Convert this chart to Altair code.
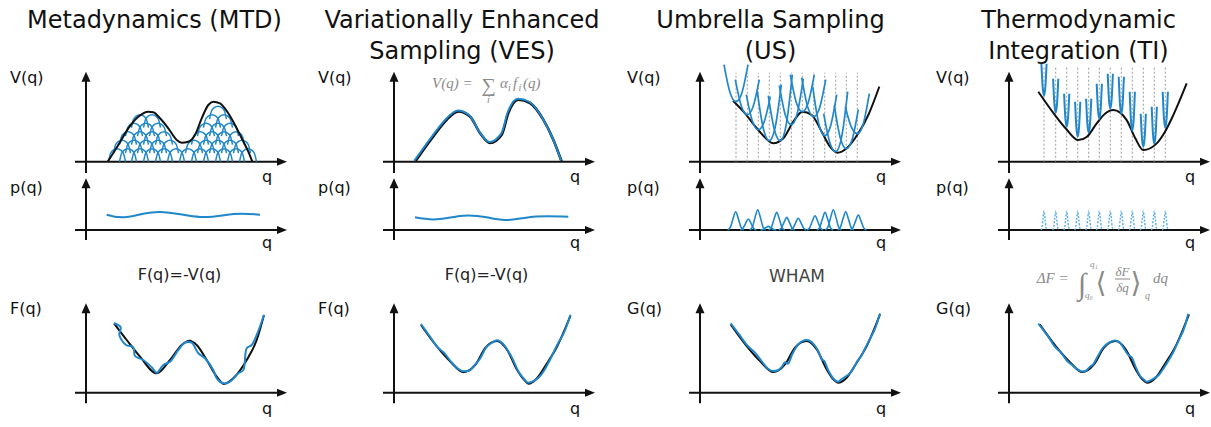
import altair as alt
import pandas as pd

# ---------------- style ----------------
BLUE = "#1f87ca"
LIGHTBLUE = "#5aaee3"
BLACK = "#111111"
DOTGREY = "#9a9a9a"
FORMULA = "#8a8a8a"
SANS = "DejaVu Sans"
SERIF = "Liberation Serif"

# ---------------- layout (pixels) ----------------
COL_W = [303, 303, 303, 302]
COL_AX = [86, 91, 94, 100]          # y-axis position inside each column
ROW_H = {"V": 176, "p": 74, "F": 177}
ROW_BASE = {"V": 161.7, "p": 54.0, "F": 142.7}
AX_TOP = {"V": 90, "p": 51.7, "F": 89.4}
AX_BOT = {"V": -11.3, "p": -10, "F": -10.6}
X_LEFT, X_TIP = -11, 201
LABEL_Q = [-76, -76, -73, -73]
LAB_V = {"V": 78.7, "p": 37.3, "F": 78.7}
QLAB_V = {"V": -20, "p": -18, "F": -21}

# ---------------- text ----------------
TITLES = [["Metadynamics (MTD)"], ["Variationally Enhanced", "Sampling (VES)"],
          ["Umbrella Sampling", "(US)"], ["Thermodynamic", "Integration (TI)"]]
TITLE_Q = [68.5, 68, 70.5, 69.5]
TITLE_V = [133.7, 102.7]
F_LABELS = ["F(q)", "F(q)", "G(q)", "G(q)"]

# ---------------- data ----------------
# Metadynamics bias potential V(q)
MTD_V_Q = [21.7, 32.3, 42.3, 52.3, 62.3, 67.3, 74, 82.3, 90.7, 95.7, 102.3, 109, 115.7, 122.3, 127.3, 134, 142.3, 149, 155.7, 162.3, 166.3]
MTD_V_V = [0, 16.7, 33.4, 45, 50, 49.4, 43.4, 33.4, 21.7, 19, 20, 26.7, 43.4, 56.7, 60, 58.4, 48.4, 36.7, 23.4, 10, 0]
# deposited gaussians: one list of centres per level
MTD_ARC_BASE = [0, 8.5, 17, 25.5, 34, 42.5]
MTD_ARC_CENTERS = [
    [31, 42, 54, 66, 78, 90, 102, 114, 126, 138, 150, 162],
    [36, 48, 60, 72, 84, 108, 120, 132, 144, 156],
    [42, 54, 66, 78, 114, 126, 138, 150],
    [48, 60, 72, 120, 132, 144],
    [54, 66, 126, 138],
    [132],
]
ARC_DX = [-8.5, -6.5, -3.8, 0, 3.8, 6.5, 8.5]
ARC_DY = [0, 8.2, 11.6, 13, 11.6, 8.2, 0]
MTD_P_Q = [20.7, 40.7, 74, 114, 147.3, 174]
MTD_P_V = [15.3, 13, 18, 13, 16, 15.3]
MTD_F_Q = [28, 40.7, 54, 70.7, 84, 95.7, 103.3, 110.7, 120.7, 130.7, 138, 147.3, 160.7, 170.7, 178]
MTD_F_V = [69.4, 52.7, 36, 19.4, 32.7, 47.7, 52, 47.7, 32.7, 16, 8.7, 14.4, 32.7, 52.7, 77.7]
MTD_FB_Q = [28, 34.7, 33.3, 40, 47.3, 49, 57.3, 65.7, 70.7, 77.3, 84, 92.3, 99, 105.7, 112.3, 119, 127.3, 130.7, 137.3, 144, 152.3, 157.3, 160.7, 165.7, 170.7, 178]
MTD_FB_V = [69.4, 65.4, 57.7, 47.7, 45.4, 36.7, 32.7, 25.4, 20, 27.7, 31, 42.7, 50, 50, 39.4, 34.4, 22.7, 14.4, 9.4, 11, 19.4, 22.7, 44.4, 47.7, 57.7, 77.7]

# VES
VES_V_Q = [21, 39.3, 52.7, 64.3, 76, 86, 96, 107.7, 114.3, 124.3, 136, 149.3, 159.3, 167.7]
VES_V_V = [0, 25.3, 42, 50.3, 45.3, 28.7, 18.7, 27, 48.7, 62, 58.7, 42, 22, 0]
VES_P_Q = [21, 42.7, 69.3, 92.7, 114.3, 139.3, 174.3]
VES_P_V = [12.7, 10.7, 14.3, 12.7, 10, 13.3, 13.3]
VES_F_Q = [27, 43, 56.5, 69.5, 81.5, 91.5, 103, 113, 123, 130, 134.5, 143, 153, 163, 176.5]
VES_F_V = [67.7, 46, 31, 20.5, 28, 45, 51.7, 43, 23, 13, 9, 14.5, 29.5, 46, 77]
VES_FB_Q = [27, 36, 44, 50, 57, 64, 69.5, 75, 80, 86, 92, 98, 103, 109, 114, 119, 124, 129, 134.5, 140, 145, 150, 156, 163, 170, 176.5]
VES_FB_V = [68.7, 56, 45, 40, 31, 24, 21.5, 22, 27, 34, 45, 50, 52.5, 49, 42, 33, 22, 15, 10, 12, 15.5, 22, 33, 47.5, 60, 78]

# Umbrella sampling
US_V_Q = [33, 45, 58.3, 73.3, 83.3, 93.3, 102.3, 111.7, 121.7, 130, 137.7, 146.7, 158.3, 168.3, 179.3]
US_V_V = [61, 48.4, 31.7, 18.4, 23.4, 40, 50, 46.7, 30, 15, 9, 13.4, 28.4, 46.7, 75]
US_WIN = [36, 47.3, 58.3, 69.3, 80.3, 91.3, 102.3, 113.7, 124.7, 135.7, 146.3, 157.3]
US_MIN = [60, 47, 32, 21, 21, 37, 50, 45, 26, 10, 13, 28]
US_LEFT = [97, 82, 67, 70, 66, 76, 87, 84, 75, 48, 56, 55]
US_RIGHT = [97, 82, 65, 77, 87, 83, 87, 82, 67, 70, 52, 68]
US_DOT_TOP = 89
US_P_C = [35.7, 48.3, 57.7, 68.3, 76.7, 86.7, 98.3, 115, 125, 133.3, 145.7, 158.3]
US_P_H = [18.3, 11, 20.3, 3.6, 17.6, 12.6, 11.7, 14.3, 17.6, 20.3, 18.3, 15]
BELL_DX = [-8, -5.4, -2.7, 0, 2.7, 5.4, 8]
BELL_F = [0, 0.14, 0.61, 1, 0.61, 0.14, 0]
# umbrella profile: fraction of the arm rise at fractions of the half-width
UMB_DX = [-1, -0.5, 0, 0.5, 1]
UMB_F = [1, 0.25, 0, 0.25, 1]

# free-energy reference curve (WHAM / TI rows)
F_REF_Q = [30.7, 46.7, 60, 73.3, 85, 95, 106.7, 116.7, 126.7, 133.3, 138.3, 146.7, 156.7, 166.7, 180]
F_REF_V = [68.3, 46.6, 31.6, 20.6, 28.3, 45, 51.6, 43.3, 23.3, 13.3, 10, 15, 30, 46.6, 78.3]
US_GB_Q = [30.7, 40, 47, 50, 55, 62, 68, 73.3, 78, 82, 85, 88, 92, 98, 106.7, 114, 118, 122, 124, 128, 133, 138.3, 142, 146, 150, 152, 157, 162, 166.7, 170, 175, 180]
US_GB_V = [69.3, 57, 47.5, 44.5, 40, 31, 24, 21.6, 22.5, 26, 30.5, 29, 38, 48, 52.6, 48, 42, 33, 32, 23, 14.6, 11, 14, 16.3, 19.5, 22, 31, 38, 47.6, 54, 64, 79.3]

# Thermodynamic integration
TI_V_Q = [29.3, 46, 57, 69.3, 78, 87.7, 96, 104.3, 117.7, 126, 134.3, 147.7, 156, 164.3, 177.7]
TI_V_V = [70, 46.6, 33, 21.6, 25, 38.3, 48, 51.6, 41.6, 24, 11.6, 18.3, 30, 46.6, 78.3]
TI_WIN = [35, 46.7, 57.7, 68.7, 79.7, 90.3, 101.3, 112.3, 123.3, 134.3, 145.3, 156.3]
TI_BOT = [66, 49, 35, 25, 29, 43, 53, 48, 31, 15, 18, 34]
TI_TOP = [98, 83, 68, 60, 63, 78, 88, 85, 70, 48, 55, 70]
TI_DOT_TOP = 96
TI_P_H = [19, 19, 19, 19, 19, 19, 19, 19, 19, 19, 19, 19]
NARROW_DX = [-3, -2, -1, 0, 1, 2, 3]
TI_GB_Q = [29.3, 34, 40, 45, 52, 58, 64, 69, 72.7, 77, 81, 84, 88, 94, 100, 106, 111, 115, 119, 123, 127, 131, 135, 137.7, 141, 146, 150, 155, 160, 165, 170, 175, 179.3]
TI_GB_V = [69, 63, 55, 47, 40, 32, 27, 23, 21.3, 22, 26, 28, 35, 45, 50, 52.3, 50, 44, 38, 35, 25, 17, 13, 11, 12, 15, 18, 25, 33, 42, 53, 64, 79]


# ---------------- helpers ----------------
def X(c, field="q"):
    return alt.X(f"{field}:Q", axis=None,
                 scale=alt.Scale(domain=[-COL_AX[c], COL_W[c] - COL_AX[c]], nice=False, zero=False))


def Y(r, field="v"):
    return alt.Y(f"{field}:Q", axis=None,
                 scale=alt.Scale(domain=[ROW_BASE[r] - ROW_H[r], ROW_BASE[r]], nice=False, zero=False))


UP = "M0,0L0.9,2L-0.9,2Z"
RIGHT = "M0,0L-2,-0.8L-2,0.8Z"


def axes(c, r):
    vx = pd.DataFrame({"q": [0], "v": [AX_BOT[r]], "v2": [AX_TOP[r] - 6]})
    hx = pd.DataFrame({"q": [X_LEFT], "q2": [X_TIP - 6], "v": [0]})
    up = pd.DataFrame({"q": [0], "v": [AX_TOP[r]]})
    rt = pd.DataFrame({"q": [X_TIP], "v": [0]})
    return [
        alt.Chart(vx).mark_rule(color=BLACK, strokeWidth=2).encode(x=X(c), y=Y(r), y2="v2"),
        alt.Chart(hx).mark_rule(color=BLACK, strokeWidth=2).encode(x=X(c), x2="q2", y=Y(r)),
        alt.Chart(up).mark_point(shape=UP, size=100, filled=True, color=BLACK, opacity=1).encode(x=X(c), y=Y(r)),
        alt.Chart(rt).mark_point(shape=RIGHT, size=100, filled=True, color=BLACK, opacity=1).encode(x=X(c), y=Y(r)),
    ]


def text(c, r, q, v, s, size=16, align="left", font=SANS, color=BLACK, style="normal"):
    df = pd.DataFrame({"q": [q], "v": [v], "t": [s]})
    return alt.Chart(df).mark_text(align=align, baseline="alphabetic", font=font, fontSize=size,
                                   color=color, fontStyle=style).encode(x=X(c), y=Y(r), text="t:N")


def ftext(c, r, q, v, s, size=15, align="left", style="italic"):
    return text(c, r, q, v, s, size=size, align=align, font=SERIF, color=FORMULA, style=style)


def curve(c, r, qs, vs, color=BLACK, width=2.0, interp="monotone", **kw):
    df = pd.DataFrame({"q": qs, "v": vs, "i": list(range(len(qs)))})
    return alt.Chart(df).mark_line(color=color, strokeWidth=width, interpolate=interp, **kw).encode(
        x=X(c), y=Y(r), order="i:Q")


def curves(c, r, rows, color, width, interp, **kw):
    df = pd.DataFrame(rows)
    return alt.Chart(df).mark_line(color=color, strokeWidth=width, interpolate=interp, **kw).encode(
        x=X(c), y=Y(r), detail="id:N", order="i:Q")


def dotted(c, r, wins, top):
    df = pd.DataFrame({"q": wins, "v": [0] * len(wins), "v2": [top] * len(wins)})
    return alt.Chart(df).mark_rule(color=DOTGREY, strokeWidth=1, strokeDash=[2, 2]).encode(
        x=X(c), y=Y(r), y2="v2")


def labels(c, r, lab):
    return [text(c, r, LABEL_Q[c], LAB_V[r], lab), text(c, r, 176, QLAB_V[r], "q")]


def titles(c):
    return [text(c, "V", TITLE_Q[c], TITLE_V[k], s, size=24, align="center")
            for k, s in enumerate(TITLES[c])]


def panel(c, r, layers):
    return alt.layer(*layers).properties(width=COL_W[c], height=ROW_H[r])


def umbrellas(centers, mins, lefts, rights, half):
    rows = []
    for k, (c0, m, l, rr) in enumerate(zip(centers, mins, lefts, rights)):
        for j, (dx, f) in enumerate(zip(UMB_DX, UMB_F)):
            arm = l if dx < 0 else rr
            rows.append({"id": k, "i": j, "q": c0 + dx * half, "v": m + f * (arm - m)})
    return rows


# ---------------- shapes built from the read values ----------------
arc_rows = []
for k, (base, centers) in enumerate(zip(MTD_ARC_BASE, MTD_ARC_CENTERS)):
    for c0 in centers:
        for j, (dx, dy) in enumerate(zip(ARC_DX, ARC_DY)):
            arc_rows.append({"id": f"{k}-{c0}", "i": j, "q": c0 + dx, "v": base + dy})

umb_rows = umbrellas(US_WIN, US_MIN, US_LEFT, US_RIGHT, 12)
ti_rows = umbrellas(TI_WIN, TI_BOT, TI_TOP, TI_TOP, 2.6)

bell_rows = []
for k, (c0, h) in enumerate(zip(US_P_C, US_P_H)):
    for j, (dx, f) in enumerate(zip(BELL_DX, BELL_F)):
        bell_rows.append({"id": k, "i": j, "q": c0 + dx, "v": h * f})

tib_rows = []
for k, (c0, h) in enumerate(zip(TI_WIN, TI_P_H)):
    for j, (dx, f) in enumerate(zip(NARROW_DX, BELL_F)):
        tib_rows.append({"id": k, "i": j, "q": c0 + dx, "v": h * f})

# ---------------- column 1: MTD ----------------
c = 0
col1 = alt.vconcat(
    panel(c, "V", titles(c) + axes(c, "V") + [
        curves(c, "V", arc_rows, BLUE, 1.5, "monotone"),
        curve(c, "V", MTD_V_Q, MTD_V_V, BLACK, 2.0),
    ] + labels(c, "V", "V(q)")),
    panel(c, "p", axes(c, "p") + [curve(c, "p", MTD_P_Q, MTD_P_V, BLUE, 2.0, "natural")] + labels(c, "p", "p(q)")),
    panel(c, "F", axes(c, "F") + [
        curve(c, "F", MTD_F_Q, MTD_F_V, BLACK, 2.0),
        curve(c, "F", MTD_FB_Q, MTD_FB_V, BLUE, 2.0, "catmull-rom"),
        text(c, "F", 93.5, 112.7, "F(q)=-V(q)", size=16, align="center", color="#222222"),
    ] + labels(c, "F", F_LABELS[c])),
    spacing=0, bounds="flush")

# ---------------- column 2: VES ----------------
c = 1
col2 = alt.vconcat(
    panel(c, "V", titles(c) + axes(c, "V") + [
        curve(c, "V", VES_V_Q, VES_V_V, BLACK, 2.6),
        curve(c, "V", VES_V_Q, VES_V_V, BLUE, 2.0, yOffset=-1, xOffset=-0.5),
        ftext(c, "V", 38, 74, "V(q) ="),
        ftext(c, "V", 94.5, 70, "∑", size=20, align="center", style="normal"),
        ftext(c, "V", 94.5, 58.5, "i", size=10, align="center"),
        ftext(c, "V", 106, 74, "α"),
        ftext(c, "V", 114, 71, "i", size=10),
        ftext(c, "V", 119, 74, "f"),
        ftext(c, "V", 124.5, 71, "i", size=10),
        ftext(c, "V", 129, 74, "(q)"),
    ] + labels(c, "V", "V(q)")),
    panel(c, "p", axes(c, "p") + [curve(c, "p", VES_P_Q, VES_P_V, BLUE, 2.0, "natural")] + labels(c, "p", "p(q)")),
    panel(c, "F", axes(c, "F") + [
        curve(c, "F", VES_F_Q, VES_F_V, BLACK, 2.0),
        curve(c, "F", VES_FB_Q, VES_FB_V, BLUE, 2.0, "monotone"),
        text(c, "F", 92.5, 112.7, "F(q)=-V(q)", size=16, align="center", color="#222222"),
    ] + labels(c, "F", F_LABELS[c])),
    spacing=0, bounds="flush")

# ---------------- column 3: US ----------------
c = 2
col3 = alt.vconcat(
    panel(c, "V", titles(c) + axes(c, "V") + [
        dotted(c, "V", US_WIN, US_DOT_TOP),
        curve(c, "V", US_V_Q, US_V_V, BLACK, 2.0),
        curves(c, "V", umb_rows, BLUE, 1.7, "monotone"),
    ] + labels(c, "V", "V(q)")),
    panel(c, "p", axes(c, "p") + [curves(c, "p", bell_rows, BLUE, 1.6, "monotone")] + labels(c, "p", "p(q)")),
    panel(c, "F", axes(c, "F") + [
        curve(c, "F", F_REF_Q, F_REF_V, BLACK, 2.0),
        curve(c, "F", US_GB_Q, US_GB_V, BLUE, 2.0, "monotone"),
        text(c, "F", 97, 111, "WHAM", size=17, align="center", color="#444444"),
    ] + labels(c, "F", F_LABELS[c])),
    spacing=0, bounds="flush")

# ---------------- column 4: TI ----------------
c = 3
col4 = alt.vconcat(
    panel(c, "V", titles(c) + axes(c, "V") + [
        dotted(c, "V", TI_WIN, TI_DOT_TOP),
        curve(c, "V", TI_V_Q, TI_V_V, BLACK, 2.0),
        curves(c, "V", ti_rows, BLUE, 2.0, "monotone"),
    ] + labels(c, "V", "V(q)")),
    panel(c, "p", axes(c, "p") + [curves(c, "p", tib_rows, LIGHTBLUE, 1.4, "monotone", strokeDash=[2, 1.5])]
          + labels(c, "p", "p(q)")),
    panel(c, "F", axes(c, "F") + [
        curve(c, "F", F_REF_Q, F_REF_V, BLACK, 2.0),
        curve(c, "F", TI_GB_Q, TI_GB_V, BLUE, 2.0, "monotone"),
        ftext(c, "F", 27.7, 109.7, "ΔF ="),
        ftext(c, "F", 73, 99, "∫", size=30, align="center"),
        ftext(c, "F", 81, 126, "q₁", size=9),
        ftext(c, "F", 76, 95, "q₀", size=9),
        text(c, "F", 92, 101, "⟨", size=28, align="center", font=SANS, color=FORMULA),
        ftext(c, "F", 113.5, 117, "δF", size=13, align="center"),
        alt.Chart(pd.DataFrame({"q": [106], "q2": [121], "v": [113.7]})).mark_rule(
            color=FORMULA, strokeWidth=1).encode(x=X(c), x2="q2", y=Y("F")),
        ftext(c, "F", 113.5, 101, "δq", size=13, align="center"),
        text(c, "F", 127, 101, "⟩", size=28, align="center", font=SANS, color=FORMULA),
        ftext(c, "F", 136, 94, "q", size=10),
        ftext(c, "F", 144, 109.7, "dq"),
    ] + labels(c, "F", F_LABELS[c])),
    spacing=0, bounds="flush")

chart = alt.hconcat(col1, col2, col3, col4, spacing=0).properties(
    padding=0, background="white").configure_view(stroke=None)

chart.save("out.html", embed_options={"renderer": "svg", "actions": False})
